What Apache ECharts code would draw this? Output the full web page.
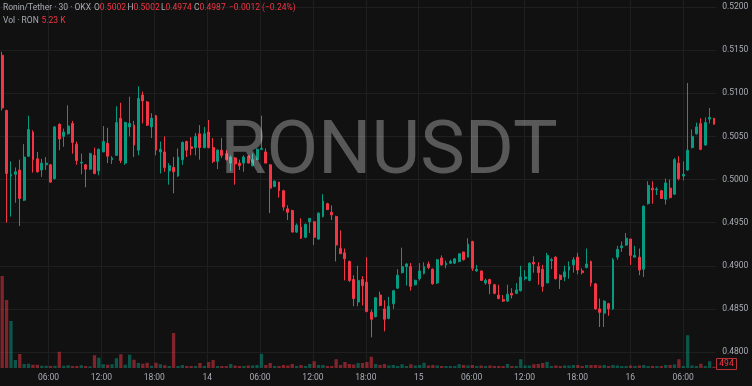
<!DOCTYPE html>
<html><head><meta charset="utf-8">
<script src="https://cdn.jsdelivr.net/npm/echarts@6/dist/echarts.min.js"></script>
<style>html,body{margin:0;padding:0;background:#111111;}#c{width:752px;height:386px;}</style>
</head><body><div id="c"></div>
<script>
// ---- DATA ----
const startDay = 13, startHour = 0, startMin = 30; // first 30-min candle
const categories = [];
(function(){ let d=startDay,h=startHour,m=startMin; for(let i=0;i<163;i++){ categories.push(d+' '+String(h).padStart(2,'0')+':'+String(m).padStart(2,'0')); m+=30; if(m===60){m=0;h++; if(h===24){h=0;d++;}} } })();

const opens = [
.5144,.5080,.5004,.5006,.5011,.4976,.5027,.5055,.5024,.5011,
.5017,.5017,.5001,.5064,.5050,.5053,.5065,.5041,.5019,.5017,
.5012,.5028,.5010,.5032,.5042,.5023,.5028,.5071,.5019,.5061,
.5063,.5034,.5098,.5090,.5061,.5074,.5032,.5032,.5010,.5014,
.5004,.5023,.5044,.5038,.5037,.5053,.5037,.5055,.5037,.5021,
.5034,.5030,.5019,.5025,.5019,.5019,.5027,.5016,.5023,.5035,
.5032,.5017,.4992,.4997,.4987,.4966,.4964,.4939,.4945,.4933,
.4951,.4951,.4931,.4957,.4972,.4962,.4957,.4920,.4915,.4905,
.4884,.4858,.4884,.4881,.4846,.4841,.4866,.4850,.4839,.4856,
.4874,.4892,.4899,.4899,.4878,.4885,.4891,.4902,.4896,.4880,
.4909,.4901,.4903,.4903,.4905,.4916,.4910,.4928,.4894,.4894,
.4880,.4884,.4878,.4866,.4861,.4859,.4868,.4868,.4871,.4885,
.4883,.4904,.4899,.4896,.4880,.4906,.4910,.4889,.4887,.4895,
.4901,.4910,.4894,.4898,.4905,.4879,.4850,.4845,.4856,.4850,
.4910,.4921,.4924,.4931,.4910,.4910,.4896,.4972,.4990,.4988,
.4987,.4977,.4990,.4983,.5019,.5004,.5011,.5037,.5053,.5065,
.5040,.5070,.5071];
const closes = [
.5083,.5007,.5006,.5009,.4978,.5026,.5058,.5023,.5009,.5019,
.5019,.4997,.5061,.5047,.5055,.5062,.5043,.5022,.5020,.5012,
.5030,.5007,.5035,.5044,.5027,.5025,.5066,.5022,.5066,.5065,
.5040,.5094,.5091,.5063,.5071,.5034,.5035,.5014,.5016,.5009,
.5026,.5043,.5034,.5036,.5050,.5037,.5053,.5037,.5021,.5034,
.5028,.5023,.5026,.5018,.5016,.5026,.5019,.5023,.5035,.5036,
.5019,.4990,.4998,.4987,.4968,.4962,.4939,.4947,.4932,.4948,
.4955,.4933,.4961,.4975,.4965,.4959,.4924,.4914,.4908,.4883,
.4862,.4883,.4877,.4847,.4838,.4863,.4854,.4838,.4853,.4871,
.4889,.4899,.4902,.4876,.4883,.4894,.4899,.4898,.4879,.4907,
.4901,.4903,.4905,.4908,.4914,.4907,.4925,.4897,.4896,.4883,
.4883,.4879,.4868,.4862,.4859,.4867,.4866,.4872,.4887,.4887,
.4903,.4902,.4892,.4876,.4912,.4907,.4885,.4884,.4893,.4899,
.4907,.4895,.4892,.4902,.4880,.4850,.4846,.4859,.4850,.4907,
.4919,.4923,.4932,.4912,.4912,.4895,.4969,.4993,.4988,.4989,
.4978,.4996,.4979,.5023,.5001,.5006,.5034,.5050,.5061,.5035,
.5066,.5072,.5064];
const highs = [
.5148,.5081,.5021,.5014,.5023,.5041,.5074,.5057,.5032,.5024,
.5026,.5018,.5062,.5065,.5059,.5086,.5068,.5044,.5030,.5018,
.5031,.5037,.5036,.5062,.5060,.5027,.5085,.5089,.5067,.5096,
.5068,.5108,.5102,.5091,.5077,.5075,.5044,.5050,.5019,.5026,
.5036,.5044,.5045,.5049,.5054,.5063,.5061,.5069,.5048,.5035,
.5048,.5034,.5028,.5026,.5023,.5028,.5028,.5030,.5036,.5074,
.5036,.5018,.4999,.4997,.4988,.4970,.4965,.4949,.4955,.4949,
.4955,.4952,.4962,.4983,.4973,.4970,.4958,.4941,.4920,.4906,
.4889,.4900,.4888,.4910,.4849,.4863,.4870,.4860,.4864,.4872,
.4896,.4921,.4903,.4903,.4884,.4903,.4904,.4905,.4897,.4908,
.4912,.4906,.4907,.4909,.4914,.4916,.4932,.4929,.4901,.4894,
.4885,.4885,.4879,.4878,.4866,.4878,.4874,.4880,.4900,.4895,
.4904,.4911,.4904,.4901,.4915,.4909,.4911,.4890,.4900,.4905,
.4910,.4915,.4897,.4920,.4906,.4880,.4862,.4860,.4857,.4909,
.4923,.4928,.4938,.4931,.4923,.4920,.4970,.4998,.4998,.4991,
.4988,.5001,.5000,.5025,.5027,.5021,.5112,.5058,.5066,.5071,
.5072,.5083,.5071];
const lows = [
.5080,.4950,.4957,.4973,.4946,.4975,.5026,.5008,.5008,.5003,
.5011,.4996,.5000,.5034,.5038,.5052,.5030,.5017,.5006,.4991,
.5011,.5006,.5005,.5032,.5019,.5018,.5028,.5019,.5017,.5050,
.5026,.5028,.5065,.5062,.5048,.5028,.5007,.5009,.4994,.4984,
.5003,.5017,.5026,.5028,.5028,.5023,.5036,.5036,.5019,.5012,
.5025,.5022,.5010,.4994,.5011,.5009,.5019,.5015,.5023,.5034,
.5019,.4961,.4991,.4979,.4964,.4953,.4939,.4938,.4931,.4932,
.4938,.4924,.4930,.4956,.4965,.4953,.4905,.4914,.4883,.4881,
.4853,.4853,.4854,.4846,.4817,.4840,.4853,.4824,.4838,.4850,
.4873,.4891,.4877,.4871,.4877,.4883,.4890,.4896,.4878,.4879,
.4900,.4897,.4902,.4902,.4904,.4906,.4910,.4894,.4893,.4883,
.4878,.4867,.4867,.4861,.4858,.4858,.4862,.4867,.4870,.4883,
.4882,.4892,.4878,.4870,.4880,.4896,.4884,.4873,.4882,.4885,
.4892,.4890,.4890,.4897,.4876,.4849,.4829,.4829,.4842,.4849,
.4907,.4916,.4923,.4901,.4910,.4889,.4887,.4971,.4972,.4982,
.4978,.4971,.4978,.4982,.4999,.4999,.5010,.5036,.5052,.5034,
.5039,.5065,.5064];
const volumes = [
36800,27200,18800,3200,5600,1600,1700,1300,1300,900,
900,800,900,6500,900,1100,800,800,1100,800,
700,5100,4100,1500,1300,1500,3900,5500,1300,5300,
3300,2000,1700,2100,900,2100,1500,1100,800,14000,
800,1200,800,800,800,2000,800,2400,3200,800,
800,800,1600,1000,800,800,1000,1000,1200,5700,
1200,2000,800,800,1200,1000,1600,800,1200,800,
1600,2700,1200,1200,800,800,3500,1200,2400,1600,
1400,2000,2000,2400,4500,1600,1200,1600,1000,1200,
800,1500,800,1500,1000,1200,2100,1000,1200,1000,
800,800,800,800,1500,1200,1000,1200,800,1000,
800,1000,800,800,800,1600,800,800,3500,1000,
1000,1500,1600,2000,2500,800,1000,800,1000,1000,
1200,1200,800,1200,1200,1200,1000,1200,800,1200,
1000,800,800,1000,800,1000,1200,800,800,800,
800,1200,1200,1400,3500,800,13100,1000,800,1700,
800,2700,494];
const priceTicks = {min:0.4800, max:0.5200, step:0.0050};
const headerTitle = 'Ronin/Tether · 30 · OKX';
const headerKeys = ['O','H','L','C'];
const headerOHLC = ['0.5002','0.5002','0.4974','0.4987'];
const headerChange = '−0.0012 (−0.24%)';
const headerVol = '5.23 K';
const symbol = 'RONUSDT';

// ---- CHART ----
const UP='#089981', DOWN='#f23645', TXT='#a9acb5', GRID='#1f1f1f';
const N = categories.length;
const band = 4.412;
const gLeft = -0.71 - band/2;
const gWidth = N*band;

const candleData = opens.map((o,i)=>[o, closes[i], lows[i], highs[i]]);
const volData = volumes.map((v,i)=>({value:v, itemStyle:{color: closes[i]>=opens[i] ? 'rgba(8,153,129,0.5)' : 'rgba(242,54,69,0.5)'}}));

function isMajor(val){ const t=val.split(' ')[1]; const hh=+t.slice(0,2), mm=+t.slice(3); return mm===0 && hh%6===0; }
function fmtMajor(val){ const p=val.split(' '); return p[1]==='00:00' ? p[0] : p[1]; }

const rich = {g:{fill:TXT, fontSize:8.5, fontFamily:'Roboto'}, r:{fill:DOWN, fontSize:8.5, fontFamily:'Roboto'}};
const headerX = [94, 127.5, 161, 194];
const header = [{type:'text', left:3, top:3, z:100, style:{text:'{g|'+headerTitle+'}', rich}}];
headerKeys.forEach((k,i)=>header.push({type:'text', left:headerX[i], top:3, z:100, style:{text:'{g|'+k+'}{r|'+headerOHLC[i]+'}', rich}}));
header.push({type:'text', left:229, top:3, z:100, style:{text:'{r|'+headerChange+'}', rich}});
header.push({type:'text', left:3, top:16, z:100, style:{text:'{g|Vol · RON}', rich}});
header.push({type:'text', left:41.5, top:16, z:100, style:{text:'{r|'+headerVol+'}', rich}});

const chart = echarts.init(document.getElementById('c'), null, {renderer:'canvas'});
chart.setOption({
  backgroundColor:'#111111',
  animation:false,
  textStyle:{fontFamily:'Roboto'},
  grid:[
    {left:gLeft, width:gWidth, top:7, height:345},
    {left:gLeft, width:gWidth, top:268, height:100},
    {left:gLeft+band/2, width:(N-1)*band, top:0, height:368}
  ],
  xAxis:[
    {gridIndex:0, type:'category', data:categories, boundaryGap:true, show:false},
    {gridIndex:1, type:'category', data:categories, boundaryGap:true, show:false},
    {gridIndex:2, type:'category', data:categories, boundaryGap:false,
      axisLine:{show:false}, axisTick:{show:false},
      axisLabel:{interval:(i,v)=>isMajor(v), formatter:fmtMajor, color:TXT, fontSize:8.5, margin:5, fontFamily:'Roboto'},
      splitLine:{show:true, interval:(i,v)=>isMajor(v), lineStyle:{color:GRID, width:1}}}
  ],
  yAxis:[
    {gridIndex:0, type:'value', position:'right', min:priceTicks.min, max:priceTicks.max, interval:priceTicks.step,
      axisLine:{show:false}, axisTick:{show:false},
      axisLabel:{formatter:v=>v.toFixed(4), color:TXT, fontSize:8.5, margin:6, fontFamily:'Roboto'},
      splitLine:{show:true, lineStyle:{color:GRID, width:1}}},
    {gridIndex:1, type:'value', min:0, max:40000, show:false},
    {gridIndex:2, type:'value', min:0, max:1, show:false}
  ],
  series:[
    {type:'bar', xAxisIndex:1, yAxisIndex:1, data:volData, barWidth:3.3, z:1, silent:true},
    {type:'candlestick', xAxisIndex:0, yAxisIndex:0, data:candleData, barWidth:2.4, z:3, silent:true,
      itemStyle:{color:UP, color0:DOWN, borderColor:UP, borderColor0:DOWN, borderWidth:1}}
  ],
  graphic: header.concat([
    {type:'text', z:50, style:{x:389, y:154, text:symbol, align:'center', verticalAlign:'middle',
      font:'75px Roboto', fill:'rgba(255,255,255,0.3)'}},
    {type:'group', left:716, top:358, z:100, children:[
      {type:'rect', shape:{x:0,y:0,width:20,height:11}, style:{fill:'#111111', stroke:'#b8323c', lineWidth:1}},
      {type:'text', style:{x:10, y:5.5, text:String(volumes[volumes.length-1]), align:'center', verticalAlign:'middle', fill:DOWN, fontSize:8.5, fontFamily:'Roboto'}}
    ]}
  ])
});
</script></body></html>
